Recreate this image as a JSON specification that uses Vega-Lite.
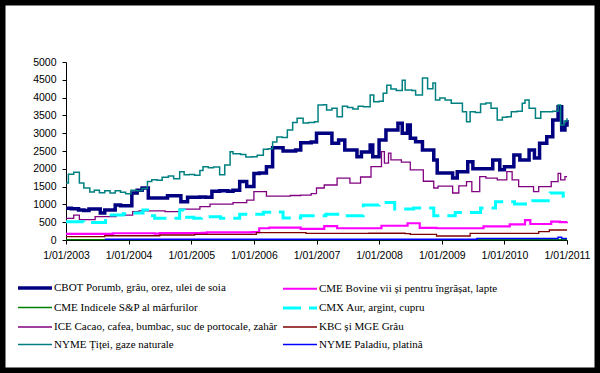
{
  "$schema": "https://vega.github.io/schema/vega-lite/v6.json",
  "width": 600,
  "height": 373,
  "autosize": "none",
  "padding": 0,
  "background": "white",
  "config": {
    "view": {"stroke": "black", "strokeWidth": 11, "fill": "white"},
    "axis": {"labelFont": "Liberation Sans", "labelFontSize": 10.5, "labelColor": "black", "domainColor": "black", "tickColor": "black", "tickSize": 4, "grid": false, "title": null},
    "legend": {"orient": "none", "legendX": 26, "legendY": 279, "columns": 2, "direction": "vertical", "title": null, "labelFont": "Liberation Serif", "labelFontSize": 11, "labelColor": "black", "symbolType": "M-2.43,0H2.43", "symbolSize": 196, "symbolFillColor": "transparent", "labelOffset": 10, "columnPadding": -2, "rowPadding": 4.5, "padding": 0, "labelLimit": 400}
  },
  "data": {"values": [
    {"series":"CBOT Porumb, grâu, orez, ulei de soia","date":"2003-01-01","value":890},
    {"series":"CBOT Porumb, grâu, orez, ulei de soia","date":"2003-02-01","value":880},
    {"series":"CBOT Porumb, grâu, orez, ulei de soia","date":"2003-03-15","value":843},
    {"series":"CBOT Porumb, grâu, orez, ulei de soia","date":"2003-04-15","value":830},
    {"series":"CBOT Porumb, grâu, orez, ulei de soia","date":"2003-05-15","value":870},
    {"series":"CBOT Porumb, grâu, orez, ulei de soia","date":"2003-06-15","value":870},
    {"series":"CBOT Porumb, grâu, orez, ulei de soia","date":"2003-07-20","value":760},
    {"series":"CBOT Porumb, grâu, orez, ulei de soia","date":"2003-08-15","value":840},
    {"series":"CBOT Porumb, grâu, orez, ulei de soia","date":"2003-09-15","value":840},
    {"series":"CBOT Porumb, grâu, orez, ulei de soia","date":"2003-10-15","value":983},
    {"series":"CBOT Porumb, grâu, orez, ulei de soia","date":"2003-11-15","value":960},
    {"series":"CBOT Porumb, grâu, orez, ulei de soia","date":"2003-12-20","value":960},
    {"series":"CBOT Porumb, grâu, orez, ulei de soia","date":"2004-01-20","value":1320},
    {"series":"CBOT Porumb, grâu, orez, ulei de soia","date":"2004-02-20","value":1400},
    {"series":"CBOT Porumb, grâu, orez, ulei de soia","date":"2004-03-20","value":1460},
    {"series":"CBOT Porumb, grâu, orez, ulei de soia","date":"2004-04-25","value":1180},
    {"series":"CBOT Porumb, grâu, orez, ulei de soia","date":"2004-06-01","value":1180},
    {"series":"CBOT Porumb, grâu, orez, ulei de soia","date":"2004-07-01","value":1180},
    {"series":"CBOT Porumb, grâu, orez, ulei de soia","date":"2004-08-15","value":1240},
    {"series":"CBOT Porumb, grâu, orez, ulei de soia","date":"2004-09-20","value":1240},
    {"series":"CBOT Porumb, grâu, orez, ulei de soia","date":"2004-11-01","value":1075},
    {"series":"CBOT Porumb, grâu, orez, ulei de soia","date":"2004-12-10","value":1200},
    {"series":"CBOT Porumb, grâu, orez, ulei de soia","date":"2005-01-15","value":1200},
    {"series":"CBOT Porumb, grâu, orez, ulei de soia","date":"2005-02-20","value":1210},
    {"series":"CBOT Porumb, grâu, orez, ulei de soia","date":"2005-03-25","value":1200},
    {"series":"CBOT Porumb, grâu, orez, ulei de soia","date":"2005-05-01","value":1370},
    {"series":"CBOT Porumb, grâu, orez, ulei de soia","date":"2005-06-15","value":1380},
    {"series":"CBOT Porumb, grâu, orez, ulei de soia","date":"2005-08-01","value":1370},
    {"series":"CBOT Porumb, grâu, orez, ulei de soia","date":"2005-09-01","value":1400},
    {"series":"CBOT Porumb, grâu, orez, ulei de soia","date":"2005-10-10","value":1640},
    {"series":"CBOT Porumb, grâu, orez, ulei de soia","date":"2005-11-20","value":1500},
    {"series":"CBOT Porumb, grâu, orez, ulei de soia","date":"2006-01-01","value":1870},
    {"series":"CBOT Porumb, grâu, orez, ulei de soia","date":"2006-02-01","value":1880},
    {"series":"CBOT Porumb, grâu, orez, ulei de soia","date":"2006-03-15","value":2060},
    {"series":"CBOT Porumb, grâu, orez, ulei de soia","date":"2006-04-20","value":2590},
    {"series":"CBOT Porumb, grâu, orez, ulei de soia","date":"2006-05-15","value":2590},
    {"series":"CBOT Porumb, grâu, orez, ulei de soia","date":"2006-06-20","value":2500},
    {"series":"CBOT Porumb, grâu, orez, ulei de soia","date":"2006-08-01","value":2500},
    {"series":"CBOT Porumb, grâu, orez, ulei de soia","date":"2006-09-01","value":2530},
    {"series":"CBOT Porumb, grâu, orez, ulei de soia","date":"2006-10-01","value":2730},
    {"series":"CBOT Porumb, grâu, orez, ulei de soia","date":"2006-11-01","value":2730},
    {"series":"CBOT Porumb, grâu, orez, ulei de soia","date":"2006-12-01","value":2750},
    {"series":"CBOT Porumb, grâu, orez, ulei de soia","date":"2007-01-01","value":3000},
    {"series":"CBOT Porumb, grâu, orez, ulei de soia","date":"2007-02-20","value":3000},
    {"series":"CBOT Porumb, grâu, orez, ulei de soia","date":"2007-04-01","value":2720},
    {"series":"CBOT Porumb, grâu, orez, ulei de soia","date":"2007-05-10","value":2810},
    {"series":"CBOT Porumb, grâu, orez, ulei de soia","date":"2007-06-15","value":2530},
    {"series":"CBOT Porumb, grâu, orez, ulei de soia","date":"2007-08-25","value":2340},
    {"series":"CBOT Porumb, grâu, orez, ulei de soia","date":"2007-09-20","value":2470},
    {"series":"CBOT Porumb, grâu, orez, ulei de soia","date":"2007-11-10","value":2670},
    {"series":"CBOT Porumb, grâu, orez, ulei de soia","date":"2007-11-25","value":2340},
    {"series":"CBOT Porumb, grâu, orez, ulei de soia","date":"2008-01-01","value":2810},
    {"series":"CBOT Porumb, grâu, orez, ulei de soia","date":"2008-02-10","value":3090},
    {"series":"CBOT Porumb, grâu, orez, ulei de soia","date":"2008-03-20","value":3090},
    {"series":"CBOT Porumb, grâu, orez, ulei de soia","date":"2008-04-20","value":3280},
    {"series":"CBOT Porumb, grâu, orez, ulei de soia","date":"2008-05-15","value":3000},
    {"series":"CBOT Porumb, grâu, orez, ulei de soia","date":"2008-06-15","value":3230},
    {"series":"CBOT Porumb, grâu, orez, ulei de soia","date":"2008-07-01","value":2860},
    {"series":"CBOT Porumb, grâu, orez, ulei de soia","date":"2008-08-01","value":2760},
    {"series":"CBOT Porumb, grâu, orez, ulei de soia","date":"2008-09-10","value":2530},
    {"series":"CBOT Porumb, grâu, orez, ulei de soia","date":"2008-10-15","value":2530},
    {"series":"CBOT Porumb, grâu, orez, ulei de soia","date":"2008-11-15","value":2250},
    {"series":"CBOT Porumb, grâu, orez, ulei de soia","date":"2008-12-05","value":1880},
    {"series":"CBOT Porumb, grâu, orez, ulei de soia","date":"2009-01-20","value":1880},
    {"series":"CBOT Porumb, grâu, orez, ulei de soia","date":"2009-03-05","value":1740},
    {"series":"CBOT Porumb, grâu, orez, ulei de soia","date":"2009-04-01","value":1920},
    {"series":"CBOT Porumb, grâu, orez, ulei de soia","date":"2009-05-01","value":1920},
    {"series":"CBOT Porumb, grâu, orez, ulei de soia","date":"2009-06-01","value":2200},
    {"series":"CBOT Porumb, grâu, orez, ulei de soia","date":"2009-07-01","value":2000},
    {"series":"CBOT Porumb, grâu, orez, ulei de soia","date":"2009-08-15","value":2000},
    {"series":"CBOT Porumb, grâu, orez, ulei de soia","date":"2009-09-20","value":2000},
    {"series":"CBOT Porumb, grâu, orez, ulei de soia","date":"2009-10-25","value":2250},
    {"series":"CBOT Porumb, grâu, orez, ulei de soia","date":"2009-12-05","value":1970},
    {"series":"CBOT Porumb, grâu, orez, ulei de soia","date":"2010-01-01","value":2060},
    {"series":"CBOT Porumb, grâu, orez, ulei de soia","date":"2010-02-25","value":2390},
    {"series":"CBOT Porumb, grâu, orez, ulei de soia","date":"2010-04-01","value":2250},
    {"series":"CBOT Porumb, grâu, orez, ulei de soia","date":"2010-05-25","value":2530},
    {"series":"CBOT Porumb, grâu, orez, ulei de soia","date":"2010-06-25","value":2300},
    {"series":"CBOT Porumb, grâu, orez, ulei de soia","date":"2010-07-25","value":2720},
    {"series":"CBOT Porumb, grâu, orez, ulei de soia","date":"2010-09-05","value":2900},
    {"series":"CBOT Porumb, grâu, orez, ulei de soia","date":"2010-10-10","value":3370},
    {"series":"CBOT Porumb, grâu, orez, ulei de soia","date":"2010-11-10","value":3745},
    {"series":"CBOT Porumb, grâu, orez, ulei de soia","date":"2010-12-01","value":3090},
    {"series":"CBOT Porumb, grâu, orez, ulei de soia","date":"2010-12-20","value":3230},
    {"series":"CBOT Porumb, grâu, orez, ulei de soia","date":"2011-01-01","value":3370},

    {"series":"CME Indicele S&P al mărfurilor","date":"2003-01-01","value":12},
    {"series":"CME Indicele S&P al mărfurilor","date":"2005-01-01","value":12},
    {"series":"CME Indicele S&P al mărfurilor","date":"2007-01-01","value":12},
    {"series":"CME Indicele S&P al mărfurilor","date":"2009-01-01","value":12},
    {"series":"CME Indicele S&P al mărfurilor","date":"2011-01-01","value":12},

    {"series":"ICE Cacao, cafea, bumbac, suc de portocale, zahăr","date":"2003-01-01","value":610},
    {"series":"ICE Cacao, cafea, bumbac, suc de portocale, zahăr","date":"2003-02-15","value":700},
    {"series":"ICE Cacao, cafea, bumbac, suc de portocale, zahăr","date":"2003-03-20","value":575},
    {"series":"ICE Cacao, cafea, bumbac, suc de portocale, zahăr","date":"2003-05-15","value":575},
    {"series":"ICE Cacao, cafea, bumbac, suc de portocale, zahăr","date":"2003-06-20","value":655},
    {"series":"ICE Cacao, cafea, bumbac, suc de portocale, zahăr","date":"2003-08-20","value":655},
    {"series":"ICE Cacao, cafea, bumbac, suc de portocale, zahăr","date":"2003-10-20","value":700},
    {"series":"ICE Cacao, cafea, bumbac, suc de portocale, zahăr","date":"2003-12-10","value":700},
    {"series":"ICE Cacao, cafea, bumbac, suc de portocale, zahăr","date":"2004-01-25","value":795},
    {"series":"ICE Cacao, cafea, bumbac, suc de portocale, zahăr","date":"2004-03-01","value":820},
    {"series":"ICE Cacao, cafea, bumbac, suc de portocale, zahăr","date":"2004-05-01","value":820},
    {"series":"ICE Cacao, cafea, bumbac, suc de portocale, zahăr","date":"2004-07-01","value":820},
    {"series":"ICE Cacao, cafea, bumbac, suc de portocale, zahăr","date":"2004-08-01","value":795},
    {"series":"ICE Cacao, cafea, bumbac, suc de portocale, zahăr","date":"2004-10-25","value":870},
    {"series":"ICE Cacao, cafea, bumbac, suc de portocale, zahăr","date":"2004-12-15","value":870},
    {"series":"ICE Cacao, cafea, bumbac, suc de portocale, zahăr","date":"2005-02-20","value":935},
    {"series":"ICE Cacao, cafea, bumbac, suc de portocale, zahăr","date":"2005-04-20","value":1010},
    {"series":"ICE Cacao, cafea, bumbac, suc de portocale, zahăr","date":"2005-07-01","value":1010},
    {"series":"ICE Cacao, cafea, bumbac, suc de portocale, zahăr","date":"2005-09-01","value":1050},
    {"series":"ICE Cacao, cafea, bumbac, suc de portocale, zahăr","date":"2005-11-20","value":1120},
    {"series":"ICE Cacao, cafea, bumbac, suc de portocale, zahăr","date":"2006-01-01","value":1360},
    {"series":"ICE Cacao, cafea, bumbac, suc de portocale, zahăr","date":"2006-02-15","value":1360},
    {"series":"ICE Cacao, cafea, bumbac, suc de portocale, zahăr","date":"2006-03-15","value":1230},
    {"series":"ICE Cacao, cafea, bumbac, suc de portocale, zahăr","date":"2006-06-01","value":1230},
    {"series":"ICE Cacao, cafea, bumbac, suc de portocale, zahăr","date":"2006-08-01","value":1250},
    {"series":"ICE Cacao, cafea, bumbac, suc de portocale, zahăr","date":"2006-10-01","value":1260},
    {"series":"ICE Cacao, cafea, bumbac, suc de portocale, zahăr","date":"2006-12-01","value":1300},
    {"series":"ICE Cacao, cafea, bumbac, suc de portocale, zahăr","date":"2007-01-01","value":1460},
    {"series":"ICE Cacao, cafea, bumbac, suc de portocale, zahăr","date":"2007-02-15","value":1545},
    {"series":"ICE Cacao, cafea, bumbac, suc de portocale, zahăr","date":"2007-04-01","value":1545},
    {"series":"ICE Cacao, cafea, bumbac, suc de portocale, zahăr","date":"2007-05-01","value":1740},
    {"series":"ICE Cacao, cafea, bumbac, suc de portocale, zahăr","date":"2007-06-15","value":1740},
    {"series":"ICE Cacao, cafea, bumbac, suc de portocale, zahăr","date":"2007-07-15","value":1600},
    {"series":"ICE Cacao, cafea, bumbac, suc de portocale, zahăr","date":"2007-08-25","value":1600},
    {"series":"ICE Cacao, cafea, bumbac, suc de portocale, zahăr","date":"2007-09-15","value":1770},
    {"series":"ICE Cacao, cafea, bumbac, suc de portocale, zahăr","date":"2007-10-20","value":1770},
    {"series":"ICE Cacao, cafea, bumbac, suc de portocale, zahăr","date":"2007-11-15","value":2060},
    {"series":"ICE Cacao, cafea, bumbac, suc de portocale, zahăr","date":"2007-12-20","value":2060},
    {"series":"ICE Cacao, cafea, bumbac, suc de portocale, zahăr","date":"2008-01-15","value":2480},
    {"series":"ICE Cacao, cafea, bumbac, suc de portocale, zahăr","date":"2008-02-01","value":2160},
    {"series":"ICE Cacao, cafea, bumbac, suc de portocale, zahăr","date":"2008-02-25","value":2440},
    {"series":"ICE Cacao, cafea, bumbac, suc de portocale, zahăr","date":"2008-03-10","value":2250},
    {"series":"ICE Cacao, cafea, bumbac, suc de portocale, zahăr","date":"2008-04-20","value":2250},
    {"series":"ICE Cacao, cafea, bumbac, suc de portocale, zahăr","date":"2008-05-10","value":2190},
    {"series":"ICE Cacao, cafea, bumbac, suc de portocale, zahăr","date":"2008-06-10","value":2190},
    {"series":"ICE Cacao, cafea, bumbac, suc de portocale, zahăr","date":"2008-07-01","value":1970},
    {"series":"ICE Cacao, cafea, bumbac, suc de portocale, zahăr","date":"2008-08-20","value":1970},
    {"series":"ICE Cacao, cafea, bumbac, suc de portocale, zahăr","date":"2008-09-15","value":1650},
    {"series":"ICE Cacao, cafea, bumbac, suc de portocale, zahăr","date":"2008-10-20","value":1650},
    {"series":"ICE Cacao, cafea, bumbac, suc de portocale, zahăr","date":"2008-11-15","value":1460},
    {"series":"ICE Cacao, cafea, bumbac, suc de portocale, zahăr","date":"2008-12-10","value":1515},
    {"series":"ICE Cacao, cafea, bumbac, suc de portocale, zahăr","date":"2009-02-01","value":1515},
    {"series":"ICE Cacao, cafea, bumbac, suc de portocale, zahăr","date":"2009-03-05","value":1320},
    {"series":"ICE Cacao, cafea, bumbac, suc de portocale, zahăr","date":"2009-04-10","value":1520},
    {"series":"ICE Cacao, cafea, bumbac, suc de portocale, zahăr","date":"2009-05-25","value":1640},
    {"series":"ICE Cacao, cafea, bumbac, suc de portocale, zahăr","date":"2009-06-25","value":1360},
    {"series":"ICE Cacao, cafea, bumbac, suc de portocale, zahăr","date":"2009-08-10","value":1780},
    {"series":"ICE Cacao, cafea, bumbac, suc de portocale, zahăr","date":"2009-09-15","value":1740},
    {"series":"ICE Cacao, cafea, bumbac, suc de portocale, zahăr","date":"2009-10-20","value":1740},
    {"series":"ICE Cacao, cafea, bumbac, suc de portocale, zahăr","date":"2009-11-20","value":1690},
    {"series":"ICE Cacao, cafea, bumbac, suc de portocale, zahăr","date":"2010-01-15","value":1920},
    {"series":"ICE Cacao, cafea, bumbac, suc de portocale, zahăr","date":"2010-02-15","value":1690},
    {"series":"ICE Cacao, cafea, bumbac, suc de portocale, zahăr","date":"2010-03-25","value":1500},
    {"series":"ICE Cacao, cafea, bumbac, suc de portocale, zahăr","date":"2010-05-10","value":1500},
    {"series":"ICE Cacao, cafea, bumbac, suc de portocale, zahăr","date":"2010-06-20","value":1360},
    {"series":"ICE Cacao, cafea, bumbac, suc de portocale, zahăr","date":"2010-07-20","value":1500},
    {"series":"ICE Cacao, cafea, bumbac, suc de portocale, zahăr","date":"2010-09-01","value":1500},
    {"series":"ICE Cacao, cafea, bumbac, suc de portocale, zahăr","date":"2010-10-01","value":1640},
    {"series":"ICE Cacao, cafea, bumbac, suc de portocale, zahăr","date":"2010-11-10","value":1870},
    {"series":"ICE Cacao, cafea, bumbac, suc de portocale, zahăr","date":"2010-11-25","value":1690},
    {"series":"ICE Cacao, cafea, bumbac, suc de portocale, zahăr","date":"2010-12-20","value":1780},
    {"series":"ICE Cacao, cafea, bumbac, suc de portocale, zahăr","date":"2011-01-01","value":1780},

    {"series":"NYME Țiței, gaze naturale","date":"2003-01-01","value":1600},
    {"series":"NYME Țiței, gaze naturale","date":"2003-01-15","value":1850},
    {"series":"NYME Țiței, gaze naturale","date":"2003-02-15","value":1900},
    {"series":"NYME Țiței, gaze naturale","date":"2003-03-20","value":1600},
    {"series":"NYME Țiței, gaze naturale","date":"2003-04-15","value":1460},
    {"series":"NYME Țiței, gaze naturale","date":"2003-05-20","value":1350},
    {"series":"NYME Țiței, gaze naturale","date":"2003-06-15","value":1400},
    {"series":"NYME Țiței, gaze naturale","date":"2003-07-15","value":1330},
    {"series":"NYME Țiței, gaze naturale","date":"2003-08-15","value":1380},
    {"series":"NYME Țiței, gaze naturale","date":"2003-09-15","value":1320},
    {"series":"NYME Țiței, gaze naturale","date":"2003-10-15","value":1380},
    {"series":"NYME Țiței, gaze naturale","date":"2003-11-15","value":1340},
    {"series":"NYME Țiței, gaze naturale","date":"2003-12-15","value":1300},
    {"series":"NYME Țiței, gaze naturale","date":"2004-01-15","value":1400},
    {"series":"NYME Țiței, gaze naturale","date":"2004-02-15","value":1380},
    {"series":"NYME Țiței, gaze naturale","date":"2004-03-20","value":1450},
    {"series":"NYME Țiței, gaze naturale","date":"2004-04-20","value":1640},
    {"series":"NYME Țiței, gaze naturale","date":"2004-05-15","value":1690},
    {"series":"NYME Țiței, gaze naturale","date":"2004-06-15","value":1680},
    {"series":"NYME Țiței, gaze naturale","date":"2004-07-15","value":1760},
    {"series":"NYME Țiței, gaze naturale","date":"2004-08-20","value":1800},
    {"series":"NYME Țiței, gaze naturale","date":"2004-09-20","value":1720},
    {"series":"NYME Țiței, gaze naturale","date":"2004-10-25","value":1920},
    {"series":"NYME Țiței, gaze naturale","date":"2004-11-20","value":1830},
    {"series":"NYME Țiței, gaze naturale","date":"2004-12-20","value":1840},
    {"series":"NYME Țiței, gaze naturale","date":"2005-01-20","value":1820},
    {"series":"NYME Țiței, gaze naturale","date":"2005-02-20","value":1950},
    {"series":"NYME Țiței, gaze naturale","date":"2005-03-10","value":2060},
    {"series":"NYME Țiței, gaze naturale","date":"2005-04-10","value":2030},
    {"series":"NYME Țiței, gaze naturale","date":"2005-05-10","value":2050},
    {"series":"NYME Țiței, gaze naturale","date":"2005-06-15","value":1830},
    {"series":"NYME Țiței, gaze naturale","date":"2005-07-15","value":2107},
    {"series":"NYME Țiței, gaze naturale","date":"2005-08-15","value":2480},
    {"series":"NYME Țiței, gaze naturale","date":"2005-09-01","value":2420},
    {"series":"NYME Țiței, gaze naturale","date":"2005-10-15","value":2400},
    {"series":"NYME Țiței, gaze naturale","date":"2005-11-15","value":2330},
    {"series":"NYME Țiței, gaze naturale","date":"2005-12-20","value":2340},
    {"series":"NYME Țiței, gaze naturale","date":"2006-01-20","value":2380},
    {"series":"NYME Țiței, gaze naturale","date":"2006-02-25","value":2550},
    {"series":"NYME Țiței, gaze naturale","date":"2006-03-25","value":2560},
    {"series":"NYME Țiței, gaze naturale","date":"2006-04-20","value":2750},
    {"series":"NYME Țiței, gaze naturale","date":"2006-05-15","value":2890},
    {"series":"NYME Țiței, gaze naturale","date":"2006-06-15","value":2880},
    {"series":"NYME Țiței, gaze naturale","date":"2006-07-15","value":3090},
    {"series":"NYME Țiței, gaze naturale","date":"2006-08-15","value":3300},
    {"series":"NYME Țiței, gaze naturale","date":"2006-09-10","value":3420},
    {"series":"NYME Țiței, gaze naturale","date":"2006-10-15","value":3290},
    {"series":"NYME Țiței, gaze naturale","date":"2006-11-15","value":3300},
    {"series":"NYME Țiței, gaze naturale","date":"2006-12-20","value":3320},
    {"series":"NYME Țiței, gaze naturale","date":"2007-01-10","value":3790},
    {"series":"NYME Țiței, gaze naturale","date":"2007-02-10","value":3800},
    {"series":"NYME Țiței, gaze naturale","date":"2007-03-01","value":3650},
    {"series":"NYME Țiței, gaze naturale","date":"2007-04-01","value":3700},
    {"series":"NYME Țiței, gaze naturale","date":"2007-05-01","value":3460},
    {"series":"NYME Țiței, gaze naturale","date":"2007-06-01","value":3760},
    {"series":"NYME Țiței, gaze naturale","date":"2007-07-01","value":3720},
    {"series":"NYME Țiței, gaze naturale","date":"2007-08-01","value":3680},
    {"series":"NYME Țiței, gaze naturale","date":"2007-09-01","value":3760},
    {"series":"NYME Țiței, gaze naturale","date":"2007-10-01","value":3740},
    {"series":"NYME Țiței, gaze naturale","date":"2007-11-10","value":4070},
    {"series":"NYME Țiței, gaze naturale","date":"2007-12-01","value":3880},
    {"series":"NYME Țiței, gaze naturale","date":"2008-01-01","value":3900},
    {"series":"NYME Țiței, gaze naturale","date":"2008-01-25","value":4120},
    {"series":"NYME Țiței, gaze naturale","date":"2008-02-15","value":4350},
    {"series":"NYME Țiței, gaze naturale","date":"2008-03-10","value":4240},
    {"series":"NYME Țiței, gaze naturale","date":"2008-04-10","value":4200},
    {"series":"NYME Țiței, gaze naturale","date":"2008-05-15","value":4490},
    {"series":"NYME Țiței, gaze naturale","date":"2008-06-01","value":4210},
    {"series":"NYME Țiței, gaze naturale","date":"2008-07-10","value":4200},
    {"series":"NYME Țiței, gaze naturale","date":"2008-08-01","value":4070},
    {"series":"NYME Țiței, gaze naturale","date":"2008-09-10","value":4550},
    {"series":"NYME Țiței, gaze naturale","date":"2008-10-10","value":4250},
    {"series":"NYME Țiței, gaze naturale","date":"2008-11-10","value":4410},
    {"series":"NYME Țiței, gaze naturale","date":"2008-11-25","value":3930},
    {"series":"NYME Țiței, gaze naturale","date":"2008-12-20","value":3990},
    {"series":"NYME Țiței, gaze naturale","date":"2009-01-20","value":3930},
    {"series":"NYME Țiței, gaze naturale","date":"2009-02-25","value":3840},
    {"series":"NYME Țiței, gaze naturale","date":"2009-04-01","value":3840},
    {"series":"NYME Țiței, gaze naturale","date":"2009-05-01","value":3600},
    {"series":"NYME Țiței, gaze naturale","date":"2009-05-25","value":3320},
    {"series":"NYME Țiței, gaze naturale","date":"2009-06-15","value":3600},
    {"series":"NYME Țiței, gaze naturale","date":"2009-07-15","value":3580},
    {"series":"NYME Țiței, gaze naturale","date":"2009-08-15","value":3820},
    {"series":"NYME Țiței, gaze naturale","date":"2009-09-15","value":3850},
    {"series":"NYME Țiței, gaze naturale","date":"2009-10-15","value":3700},
    {"series":"NYME Țiței, gaze naturale","date":"2009-11-20","value":3370},
    {"series":"NYME Țiței, gaze naturale","date":"2009-12-20","value":3450},
    {"series":"NYME Țiței, gaze naturale","date":"2010-01-15","value":3460},
    {"series":"NYME Țiței, gaze naturale","date":"2010-02-10","value":3600},
    {"series":"NYME Țiței, gaze naturale","date":"2010-03-15","value":3620},
    {"series":"NYME Țiței, gaze naturale","date":"2010-04-15","value":3840},
    {"series":"NYME Țiței, gaze naturale","date":"2010-05-01","value":3930},
    {"series":"NYME Țiței, gaze naturale","date":"2010-05-25","value":3700},
    {"series":"NYME Țiței, gaze naturale","date":"2010-07-01","value":3420},
    {"series":"NYME Țiței, gaze naturale","date":"2010-08-01","value":3600},
    {"series":"NYME Țiței, gaze naturale","date":"2010-09-01","value":3600},
    {"series":"NYME Țiței, gaze naturale","date":"2010-10-10","value":3620},
    {"series":"NYME Țiței, gaze naturale","date":"2010-11-10","value":3790},
    {"series":"NYME Țiței, gaze naturale","date":"2010-11-25","value":3230},
    {"series":"NYME Țiței, gaze naturale","date":"2010-12-15","value":3340},
    {"series":"NYME Țiței, gaze naturale","date":"2011-01-01","value":3420},

    {"series":"CME Bovine vii și pentru îngrășat, lapte","date":"2003-01-01","value":170},
    {"series":"CME Bovine vii și pentru îngrășat, lapte","date":"2003-09-01","value":170},
    {"series":"CME Bovine vii și pentru îngrășat, lapte","date":"2003-10-01","value":190},
    {"series":"CME Bovine vii și pentru îngrășat, lapte","date":"2004-06-01","value":180},
    {"series":"CME Bovine vii și pentru îngrășat, lapte","date":"2004-07-01","value":195},
    {"series":"CME Bovine vii și pentru îngrășat, lapte","date":"2005-03-01","value":200},
    {"series":"CME Bovine vii și pentru îngrășat, lapte","date":"2005-04-01","value":215},
    {"series":"CME Bovine vii și pentru îngrășat, lapte","date":"2005-12-20","value":220},
    {"series":"CME Bovine vii și pentru îngrășat, lapte","date":"2006-02-01","value":330},
    {"series":"CME Bovine vii și pentru îngrășat, lapte","date":"2006-04-01","value":350},
    {"series":"CME Bovine vii și pentru îngrășat, lapte","date":"2006-09-01","value":350},
    {"series":"CME Bovine vii și pentru îngrășat, lapte","date":"2006-10-01","value":310},
    {"series":"CME Bovine vii și pentru îngrășat, lapte","date":"2006-12-20","value":310},
    {"series":"CME Bovine vii și pentru îngrășat, lapte","date":"2007-02-15","value":390},
    {"series":"CME Bovine vii și pentru îngrășat, lapte","date":"2007-05-01","value":330},
    {"series":"CME Bovine vii și pentru îngrășat, lapte","date":"2007-12-01","value":330},
    {"series":"CME Bovine vii și pentru îngrășat, lapte","date":"2008-01-15","value":400},
    {"series":"CME Bovine vii și pentru îngrășat, lapte","date":"2008-05-01","value":400},
    {"series":"CME Bovine vii și pentru îngrășat, lapte","date":"2008-06-15","value":470},
    {"series":"CME Bovine vii și pentru îngrășat, lapte","date":"2008-07-15","value":470},
    {"series":"CME Bovine vii și pentru îngrășat, lapte","date":"2008-08-25","value":340},
    {"series":"CME Bovine vii și pentru îngrășat, lapte","date":"2008-12-01","value":330},
    {"series":"CME Bovine vii și pentru îngrășat, lapte","date":"2009-08-01","value":330},
    {"series":"CME Bovine vii și pentru îngrășat, lapte","date":"2009-09-01","value":380},
    {"series":"CME Bovine vii și pentru îngrășat, lapte","date":"2010-01-01","value":380},
    {"series":"CME Bovine vii și pentru îngrășat, lapte","date":"2010-02-01","value":440},
    {"series":"CME Bovine vii și pentru îngrășat, lapte","date":"2010-04-01","value":440},
    {"series":"CME Bovine vii și pentru îngrășat, lapte","date":"2010-05-01","value":560},
    {"series":"CME Bovine vii și pentru îngrășat, lapte","date":"2010-06-01","value":450},
    {"series":"CME Bovine vii și pentru îngrășat, lapte","date":"2010-09-01","value":450},
    {"series":"CME Bovine vii și pentru îngrășat, lapte","date":"2010-10-01","value":515},
    {"series":"CME Bovine vii și pentru îngrășat, lapte","date":"2010-11-20","value":500},
    {"series":"CME Bovine vii și pentru îngrășat, lapte","date":"2011-01-01","value":510},

    {"series":"CMX Aur, argint, cupru","date":"2003-01-01","value":515},
    {"series":"CMX Aur, argint, cupru","date":"2003-03-01","value":515},
    {"series":"CMX Aur, argint, cupru","date":"2003-04-15","value":490},
    {"series":"CMX Aur, argint, cupru","date":"2003-07-01","value":490},
    {"series":"CMX Aur, argint, cupru","date":"2003-08-20","value":700},
    {"series":"CMX Aur, argint, cupru","date":"2003-10-15","value":700},
    {"series":"CMX Aur, argint, cupru","date":"2003-12-01","value":740},
    {"series":"CMX Aur, argint, cupru","date":"2004-01-20","value":760},
    {"series":"CMX Aur, argint, cupru","date":"2004-03-25","value":840},
    {"series":"CMX Aur, argint, cupru","date":"2004-04-20","value":680},
    {"series":"CMX Aur, argint, cupru","date":"2004-06-01","value":610},
    {"series":"CMX Aur, argint, cupru","date":"2004-08-20","value":610},
    {"series":"CMX Aur, argint, cupru","date":"2004-10-25","value":840},
    {"series":"CMX Aur, argint, cupru","date":"2004-11-20","value":640},
    {"series":"CMX Aur, argint, cupru","date":"2005-01-15","value":610},
    {"series":"CMX Aur, argint, cupru","date":"2005-03-01","value":650},
    {"series":"CMX Aur, argint, cupru","date":"2005-04-10","value":650},
    {"series":"CMX Aur, argint, cupru","date":"2005-06-20","value":610},
    {"series":"CMX Aur, argint, cupru","date":"2005-08-20","value":610},
    {"series":"CMX Aur, argint, cupru","date":"2005-10-10","value":720},
    {"series":"CMX Aur, argint, cupru","date":"2005-12-20","value":720},
    {"series":"CMX Aur, argint, cupru","date":"2006-02-25","value":780},
    {"series":"CMX Aur, argint, cupru","date":"2006-05-01","value":790},
    {"series":"CMX Aur, argint, cupru","date":"2006-06-20","value":620},
    {"series":"CMX Aur, argint, cupru","date":"2006-09-01","value":620},
    {"series":"CMX Aur, argint, cupru","date":"2006-10-01","value":680},
    {"series":"CMX Aur, argint, cupru","date":"2006-12-20","value":680},
    {"series":"CMX Aur, argint, cupru","date":"2007-02-25","value":720},
    {"series":"CMX Aur, argint, cupru","date":"2007-04-20","value":720},
    {"series":"CMX Aur, argint, cupru","date":"2007-06-01","value":680},
    {"series":"CMX Aur, argint, cupru","date":"2007-08-25","value":680},
    {"series":"CMX Aur, argint, cupru","date":"2007-10-01","value":980},
    {"series":"CMX Aur, argint, cupru","date":"2007-11-20","value":980},
    {"series":"CMX Aur, argint, cupru","date":"2008-01-01","value":1050},
    {"series":"CMX Aur, argint, cupru","date":"2008-02-20","value":1050},
    {"series":"CMX Aur, argint, cupru","date":"2008-04-01","value":870},
    {"series":"CMX Aur, argint, cupru","date":"2008-06-10","value":870},
    {"series":"CMX Aur, argint, cupru","date":"2008-07-20","value":900},
    {"series":"CMX Aur, argint, cupru","date":"2008-09-10","value":900},
    {"series":"CMX Aur, argint, cupru","date":"2008-11-15","value":680},
    {"series":"CMX Aur, argint, cupru","date":"2009-02-01","value":680},
    {"series":"CMX Aur, argint, cupru","date":"2009-03-20","value":775},
    {"series":"CMX Aur, argint, cupru","date":"2009-06-10","value":775},
    {"series":"CMX Aur, argint, cupru","date":"2009-08-15","value":900},
    {"series":"CMX Aur, argint, cupru","date":"2009-10-05","value":900},
    {"series":"CMX Aur, argint, cupru","date":"2009-11-10","value":1075},
    {"series":"CMX Aur, argint, cupru","date":"2010-01-20","value":1075},
    {"series":"CMX Aur, argint, cupru","date":"2010-03-01","value":1010},
    {"series":"CMX Aur, argint, cupru","date":"2010-05-10","value":1010},
    {"series":"CMX Aur, argint, cupru","date":"2010-06-15","value":1100},
    {"series":"CMX Aur, argint, cupru","date":"2010-08-15","value":1100},
    {"series":"CMX Aur, argint, cupru","date":"2010-09-25","value":1320},
    {"series":"CMX Aur, argint, cupru","date":"2010-11-20","value":1320},
    {"series":"CMX Aur, argint, cupru","date":"2010-12-10","value":1180},
    {"series":"CMX Aur, argint, cupru","date":"2011-01-01","value":1180},

    {"series":"KBC și  MGE Grâu","date":"2003-01-01","value":95},
    {"series":"KBC și  MGE Grâu","date":"2003-08-01","value":95},
    {"series":"KBC și  MGE Grâu","date":"2003-08-15","value":120},
    {"series":"KBC și  MGE Grâu","date":"2004-06-20","value":120},
    {"series":"KBC și  MGE Grâu","date":"2004-07-01","value":140},
    {"series":"KBC și  MGE Grâu","date":"2005-01-10","value":140},
    {"series":"KBC și  MGE Grâu","date":"2005-01-20","value":160},
    {"series":"KBC și  MGE Grâu","date":"2005-12-20","value":160},
    {"series":"KBC și  MGE Grâu","date":"2006-01-15","value":205},
    {"series":"KBC și  MGE Grâu","date":"2006-10-01","value":205},
    {"series":"KBC și  MGE Grâu","date":"2006-11-01","value":187},
    {"series":"KBC și  MGE Grâu","date":"2007-10-01","value":187},
    {"series":"KBC și  MGE Grâu","date":"2007-11-01","value":190},
    {"series":"KBC și  MGE Grâu","date":"2008-06-01","value":180},
    {"series":"KBC și  MGE Grâu","date":"2008-07-01","value":160},
    {"series":"KBC și  MGE Grâu","date":"2008-11-25","value":160},
    {"series":"KBC și  MGE Grâu","date":"2008-12-01","value":112},
    {"series":"KBC și  MGE Grâu","date":"2009-06-01","value":112},
    {"series":"KBC și  MGE Grâu","date":"2009-06-15","value":187},
    {"series":"KBC și  MGE Grâu","date":"2010-07-10","value":187},
    {"series":"KBC și  MGE Grâu","date":"2010-07-20","value":234},
    {"series":"KBC și  MGE Grâu","date":"2010-09-01","value":234},
    {"series":"KBC și  MGE Grâu","date":"2010-09-20","value":281},
    {"series":"KBC și  MGE Grâu","date":"2011-01-01","value":281},

    {"series":"NYME Paladiu, platină","date":"2003-08-15","value":18},
    {"series":"NYME Paladiu, platină","date":"2005-01-01","value":18},
    {"series":"NYME Paladiu, platină","date":"2007-01-01","value":18},
    {"series":"NYME Paladiu, platină","date":"2009-07-20","value":18},
    {"series":"NYME Paladiu, platină","date":"2009-07-25","value":45},
    {"series":"NYME Paladiu, platină","date":"2010-11-01","value":45},
    {"series":"NYME Paladiu, platină","date":"2010-11-10","value":75},
    {"series":"NYME Paladiu, platină","date":"2010-11-25","value":75},
    {"series":"NYME Paladiu, platină","date":"2010-12-01","value":45},
    {"series":"NYME Paladiu, platină","date":"2011-01-01","value":45}
  ]},
  "mark": {"type": "line", "interpolate": "step-after"},
  "encoding": {
    "x": {"field": "date", "type": "temporal",
      "scale": {"type": "utc", "domain": [{"year": 2003, "month": 1, "date": 1, "utc": true}, {"year": 2011, "month": 1, "date": 1, "utc": true}], "range": [66, 567]},
      "axis": {"offset": -133, "labelExpr": "utcFormat(datum.value, '%-m/%d/%Y')", "labelPadding": 6, "labelFlush": false, "labelOverlap": false,
        "values": [{"year": 2003, "month": 1, "date": 1, "utc": true}, {"year": 2004, "month": 1, "date": 1, "utc": true}, {"year": 2005, "month": 1, "date": 1, "utc": true}, {"year": 2006, "month": 1, "date": 1, "utc": true}, {"year": 2007, "month": 1, "date": 1, "utc": true}, {"year": 2008, "month": 1, "date": 1, "utc": true}, {"year": 2009, "month": 1, "date": 1, "utc": true}, {"year": 2010, "month": 1, "date": 1, "utc": true}, {"year": 2011, "month": 1, "date": 1, "utc": true}]}},
    "y": {"field": "value", "type": "quantitative",
      "scale": {"domain": [0, 5000], "range": [240, 62], "nice": false},
      "axis": {"offset": -66, "format": "d", "values": [0, 500, 1000, 1500, 2000, 2500, 3000, 3500, 4000, 4500, 5000], "labelPadding": 6, "labelFlush": false, "labelOverlap": false}},
    "color": {"field": "series", "type": "nominal",
      "scale": {"domain": ["CBOT Porumb, grâu, orez, ulei de soia", "CME Indicele S&P al mărfurilor", "ICE Cacao, cafea, bumbac, suc de portocale, zahăr", "NYME Țiței, gaze naturale", "CME Bovine vii și pentru îngrășat, lapte", "CMX Aur, argint, cupru", "KBC și  MGE Grâu", "NYME Paladiu, platină"],
        "range": ["#000080", "#008000", "#800080", "#008080", "#FF00FF", "#00FFFF", "#800000", "#0000FF"]}},
    "strokeWidth": {"field": "series", "type": "nominal",
      "scale": {"type": "ordinal", "domain": ["CBOT Porumb, grâu, orez, ulei de soia", "CME Indicele S&P al mărfurilor", "ICE Cacao, cafea, bumbac, suc de portocale, zahăr", "NYME Țiței, gaze naturale", "CME Bovine vii și pentru îngrășat, lapte", "CMX Aur, argint, cupru", "KBC și  MGE Grâu", "NYME Paladiu, platină"],
        "range": [3.5, 1.3, 1.3, 1.5, 2.2, 3, 1.3, 1.5]}},
    "strokeDash": {"field": "series", "type": "nominal",
      "scale": {"domain": ["CBOT Porumb, grâu, orez, ulei de soia", "CME Indicele S&P al mărfurilor", "ICE Cacao, cafea, bumbac, suc de portocale, zahăr", "NYME Țiței, gaze naturale", "CME Bovine vii și pentru îngrășat, lapte", "CMX Aur, argint, cupru", "KBC și  MGE Grâu", "NYME Paladiu, platină"],
        "range": [[1, 0], [1, 0], [1, 0], [1, 0], [1, 0], [18, 8], [1, 0], [1, 0]]}}
  }
}
